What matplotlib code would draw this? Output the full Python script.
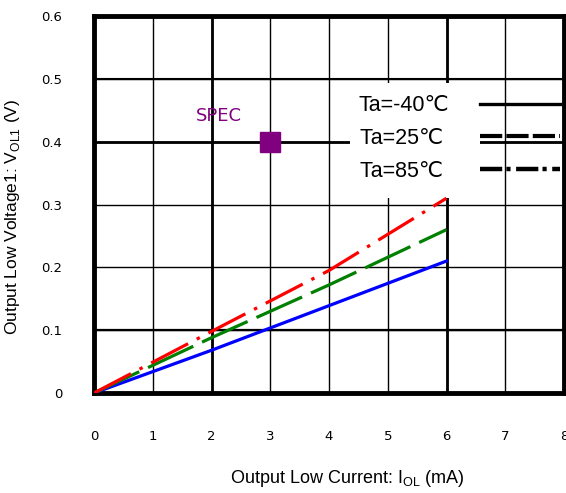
import matplotlib
matplotlib.use("Agg")
import matplotlib.pyplot as plt
from matplotlib.lines import Line2D
from matplotlib.patches import Rectangle

# output low voltage vs current
current = [0, 2, 4, 6]
vol_m40 = [0, 0.068, 0.139, 0.21]
vol_25 = [0, 0.088, 0.172, 0.26]
vol_85 = [0, 0.098, 0.195, 0.31]
spec_x = [3]
spec_y = [0.4]
x_ticks = [0, 1, 2, 3, 4, 5, 6, 7, 8]
y_ticks = [0, 0.1, 0.2, 0.3, 0.4, 0.5, 0.6]
y_tick_labels = ["0", "0.1", "0.2", "0.3", "0.4", "0.5", "0.6"]
legend_labels = ["Ta=-40℃", "Ta=25℃ ", "Ta=85℃ "]

plt.rcParams["lines.scale_dashes"] = False
plt.rcParams["font.family"] = ["Liberation Sans", "DejaVu Sans"]

fig = plt.figure(figsize=(5.66, 4.93), dpi=100)
ax = fig.add_axes([94 / 566, 100 / 493, 470 / 566, 377 / 493])
ax.set_xlim(0, 8)
ax.set_ylim(0, 0.6)

ax.set_xticks(x_ticks)
ax.set_yticks(y_ticks)
ax.set_yticklabels(y_tick_labels)
ax.tick_params(length=0, labelsize=9.5)
ax.tick_params(axis="x", pad=27)
ax.tick_params(axis="y", pad=23)
for lab in ax.get_xticklabels() + ax.get_yticklabels():
    lab.set_family("DejaVu Sans")

ax.grid(True, color="black", lw=1.0)
# the heavier grid lines
for xv in [2, 6]:
    ax.axvline(xv, color="black", lw=2.0, zorder=1.6)
for yv, w in [(0.1, 1.6), (0.4, 2.0), (0.5, 1.5)]:
    ax.axhline(yv, color="black", lw=w, zorder=1.6)

for s in ax.spines.values():
    s.set_linewidth(3.5)
    s.set_color("black")

# white area behind the legend text
ax.add_patch(Rectangle((0.545, 0.517), 0.276, 0.306, transform=ax.transAxes,
                       facecolor="white", edgecolor="none", zorder=2.1))

ax.plot(current, vol_m40, color="#0000ff", lw=2.3, zorder=3)
ax.plot(current, vol_25, color="#008000", lw=2.3, dashes=(36, 7), zorder=3)
ax.plot(current, vol_85, color="#ff0000", lw=2.3, dashes=(30, 7, 2.5, 7), zorder=3)

ax.plot(spec_x, spec_y, marker="s", ms=15, color="#800080", ls="none", zorder=4)
ax.text(2.12, 0.441, "SPEC", color="#800080", fontsize=13, ha="center", va="center",
        family="DejaVu Sans", zorder=4)

handles = [
    Line2D([], [], color="black", lw=2.4),
    Line2D([], [], color="black", lw=3.0, dashes=(16, 3)),
    Line2D([], [], color="black", lw=3.2, dashes=(16, 3, 3, 4)),
]
ax.legend(handles, legend_labels, loc="upper right", bbox_to_anchor=(0.991, 0.79),
          frameon=False, markerfirst=False, fontsize=15.5, handlelength=3.7,
          handletextpad=1.45, labelspacing=0.55, borderpad=0, borderaxespad=0)

ax.set_xlabel("Output Low Current: I$_{\\mathregular{OL}}$ (mA)", fontsize=13)
ax.set_ylabel("Output Low Voltage1: V$_{\\mathregular{OL1}}$ (V)", fontsize=12.5)
ax.xaxis.set_label_coords(0.538, -0.198)
ax.yaxis.set_label_coords(-0.153, 0.467)

fig.savefig("out.png", dpi=100)
